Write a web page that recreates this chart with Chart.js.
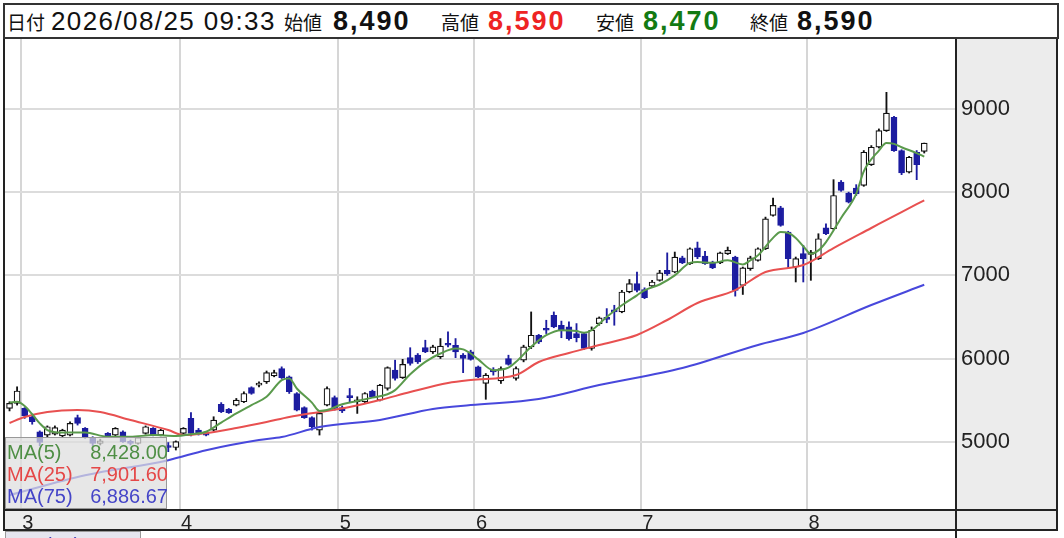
<!DOCTYPE html>
<html><head><meta charset="utf-8">
<script src="https://cdn.jsdelivr.net/npm/chart.js@4/dist/chart.umd.min.js"></script>
<style>
html,body{margin:0;padding:0;background:#fff;}
body{width:1064px;height:538px;overflow:hidden;position:relative;font-family:'Liberation Sans',Arial,sans-serif;color:#111;}
#c{position:absolute;left:0;top:0;}
#hdr{position:absolute;left:3px;top:3px;width:1052px;height:32px;border:2px solid #333;background:#fff;}
.h{position:absolute;top:0;line-height:33px;white-space:nowrap;}
.jp{font-family:'Noto Sans CJK JP',sans-serif;font-size:19px;}
.v{font-size:26px;letter-spacing:1.4px;}
.b{font-size:27px;font-weight:bold;letter-spacing:2px;}
#leg{position:absolute;left:5px;top:437px;width:160px;height:70px;background:rgba(222,222,222,0.72);border:1px solid #999;font-size:20px;}
.r{position:absolute;left:1px;width:158px;height:22px;line-height:22px;}
.r .n{position:absolute;left:0;}
.r .x{position:absolute;right:-3px;}
#rsi{position:absolute;left:5px;top:531px;width:134px;height:20px;background:rgba(222,222,235,0.8);border:1px solid #999;font-size:20px;line-height:26px;color:#3a3ab8;}
</style>
</head><body>
<canvas id="c" width="1064" height="538"></canvas>
<div id="hdr">
  <span class="h jp" style="left:2px">日付</span>
  <span class="h v" style="left:46px">2026/08/25 09:33</span>
  <span class="h jp" style="left:279px">始値</span>
  <span class="h b" style="left:328px">8,490</span>
  <span class="h jp" style="left:436px">高値</span>
  <span class="h b" style="left:483px;color:#ee2424">8,590</span>
  <span class="h jp" style="left:591px">安値</span>
  <span class="h b" style="left:638px;color:#137a13">8,470</span>
  <span class="h jp" style="left:745px">終値</span>
  <span class="h b" style="left:792px">8,590</span>
</div>
<div id="leg">
  <div class="r" style="top:3px;color:#4f8f45"><span class="n">MA(5)</span><span class="x">8,428.00</span></div>
  <div class="r" style="top:25px;color:#e54848"><span class="n">MA(25)</span><span class="x">7,901.60</span></div>
  <div class="r" style="top:47px;color:#4545c8"><span class="n">MA(75)</span><span class="x">6,886.67</span></div>
</div>
<div id="rsi">&nbsp;RSI(14)&nbsp;&nbsp;&nbsp;&nbsp;46.79</div>
<script>
// ---- data (index 0 = 2026/02/26, last = 2026/08/25) ----
const monthLabels = ['3','4','5','6','7','8'];
const monthBoundaryIdx = [1.5, 22.5, 43.5, 61.5, 83.5, 105.5];
const yTicks = [5000, 6000, 7000, 8000, 9000];

const opens = [5400,5460,5400,5300,5120,5080,5090,5070,5080,5290,5160,5040,4980,5100,5080,5120,5000,4980,5100,5160,5080,4950,4930,5100,5280,5140,5100,5140,5450,5390,5440,5480,5650,5680,5720,5790,5880,5780,5580,5410,5290,5140,5440,5530,5410,5540,5480,5480,5610,5500,5640,5860,5770,6010,6040,6130,6080,6020,6170,6160,6040,6080,5900,5700,5850,5730,6000,5760,5980,6140,6280,6350,6520,6400,6380,6300,6300,6120,6420,6490,6580,6560,6800,6900,6830,6870,6940,7060,7040,7210,7140,7330,7230,7160,7150,7260,7220,6880,7080,7180,7320,7720,7810,7520,7100,7260,7250,7200,7570,7560,8120,7990,8050,8080,8330,8540,8740,8900,8500,8240,8480,8490];
const highs = [5480,5660,5410,5310,5130,5190,5190,5150,5240,5320,5170,5060,5030,5110,5170,5130,5020,5060,5190,5170,5150,4990,5010,5170,5350,5160,5110,5300,5470,5400,5520,5600,5660,5720,5850,5860,5900,5790,5590,5420,5300,5360,5660,5550,5430,5640,5540,5590,5620,5690,5900,5980,5990,6130,6060,6220,6160,6240,6320,6240,6060,6100,5910,5820,5890,5900,6040,5900,6160,6560,6290,6460,6560,6450,6440,6420,6310,6380,6500,6600,6640,6820,6950,7040,6850,6940,7060,7270,7280,7230,7330,7400,7290,7170,7280,7340,7230,7100,7230,7330,7700,7930,7830,7530,7220,7360,7300,7500,7620,8150,8140,8000,8090,8500,8560,8760,9200,8910,8510,8430,8500,8590];
const lows = [5370,5440,5280,5210,4950,5060,5080,5050,5070,5200,5040,4950,4960,5060,5070,4990,4960,4970,5090,5070,5070,4880,4900,5080,5070,5080,5070,5130,5350,5340,5430,5470,5570,5660,5700,5780,5760,5580,5370,5280,5140,5080,5430,5380,5350,5470,5340,5470,5530,5490,5620,5740,5760,5920,5940,6070,6060,6000,6140,6010,5830,5980,5770,5510,5800,5700,5920,5740,5960,6120,6180,6300,6370,6250,6220,6200,6110,6100,6400,6430,6400,6550,6790,6800,6720,6860,6930,7000,7030,7140,7130,7200,7130,7080,7140,7250,6750,6770,7060,7170,7310,7710,7590,7080,6920,6920,6940,7190,7490,7550,8010,7870,7960,8070,8320,8530,8730,8490,8210,8230,8150,8470];
const closes = [5460,5610,5310,5240,4990,5180,5170,5140,5220,5220,5050,4980,5010,5070,5160,5000,4980,5050,5180,5080,5140,4930,5000,5160,5100,5090,5080,5260,5360,5350,5500,5580,5580,5700,5830,5830,5770,5600,5380,5290,5180,5340,5640,5400,5370,5530,5500,5580,5540,5680,5890,5760,5930,5940,5960,6080,6140,6150,6160,6080,6000,5990,5780,5800,5840,5880,5930,5880,6140,6280,6200,6340,6380,6340,6240,6250,6120,6340,6490,6470,6560,6800,6900,6820,6730,6920,7030,7020,7220,7150,7320,7220,7140,7090,7270,7300,6820,7090,7210,7320,7680,7840,7600,7200,7200,7200,7280,7440,7500,7960,8020,7880,7980,8480,8540,8740,8950,8500,8230,8420,8330,8590];

const ma5Idx = [0,1,2,3,4,5,7,10,13,16,19,22,24,26,28,30,32,34,36,37,38,40,41,42,44,46,48,50,51,53,55,57,59,60,61,62,64,66,67,69,71,73,75,76,77,79,81,83,84,86,88,90,91,93,95,97,98,99,101,102,103,104,105,106,107,108,110,112,113,115,116,117,118,120,121];
const ma5Val = [5470,5480,5430,5330,5220,5140,5110,5110,5060,5060,5080,5070,5090,5120,5230,5340,5440,5540,5740,5760,5640,5470,5370,5380,5450,5490,5530,5570,5620,5810,5960,6060,6120,6110,6060,5990,5860,5890,5960,6140,6280,6340,6330,6310,6340,6500,6640,6760,6820,6890,7000,7150,7160,7150,7180,7130,7180,7240,7450,7520,7510,7450,7350,7260,7300,7400,7690,7980,8250,8500,8590,8580,8540,8470,8428];
const ma25Idx = [0,2,5,9,12,16,21,23,26,30,34,37,41,45,49,53,58,61,67,70,74,78,83,87,91,96,100,105,109,114,118,121];
const ma25Val = [5225,5297,5357,5381,5357,5261,5140,5080,5104,5165,5237,5297,5357,5417,5501,5597,5706,5742,5802,5958,6066,6163,6283,6463,6667,6823,7040,7124,7328,7569,7761,7902];
const ma75Idx = [0,10,21,26,33,36,41,49,56,61,70,78,89,99,105,114,121];
const ma75Val = [4357,4597,4778,4898,5020,5056,5177,5261,5393,5441,5513,5681,5886,6163,6307,6643,6887];

// ---- build ----
const UP = '#ffffff', DOWN = '#1c1ca0';
const wicks = [], bodies = [], bodyBg = [], bodyBd = [], wickBg = [];
for (let i = 0; i < opens.length; i++) {
  const up = closes[i] >= opens[i];
  wicks.push({x: i, y: [lows[i], highs[i]]});
  bodies.push({x: i, y: [opens[i], closes[i]]});
  bodyBg.push(up ? UP : DOWN);
  bodyBd.push(up ? '#111111' : DOWN);
  wickBg.push(up ? '#111111' : DOWN);
}
const pts = (ix, v) => ix.map((x, k) => ({x, y: v[k]}));

const frame = {
  id: 'frame',
  beforeDraw(chart) {
    const {ctx, chartArea: a} = chart;
    ctx.save();
    ctx.fillStyle = '#ffffff';
    ctx.fillRect(0, 0, chart.width, chart.height);
    ctx.fillStyle = '#ececec';
    ctx.fillRect(a.right, 36, 1057 - a.right, 494);
    ctx.fillRect(3, a.bottom, 1054, 20);
    ctx.restore();
  },
  afterDraw(chart) {
    const {ctx, chartArea: a} = chart;
    ctx.save();
    ctx.strokeStyle = '#222';
    ctx.lineWidth = 2;
    ctx.beginPath();
    ctx.moveTo(3, 37); ctx.lineTo(1058, 37);
    ctx.moveTo(4, 36); ctx.lineTo(4, 531);
    ctx.moveTo(3, a.bottom); ctx.lineTo(1058, a.bottom);
    ctx.moveTo(3, 530); ctx.lineTo(1058, 530);
    ctx.moveTo(a.right, 36); ctx.lineTo(a.right, 538);
    ctx.moveTo(1057, 36); ctx.lineTo(1057, 531);
    ctx.stroke();
    ctx.restore();
  }
};

const family = "'Liberation Sans', Arial, sans-serif";
new Chart(document.getElementById('c'), {
  type: 'bar',
  data: {
    datasets: [
      {type: 'line', data: pts(ma5Idx, ma5Val), borderColor: '#5a9a4c', borderWidth: 2, pointRadius: 0, cubicInterpolationMode: 'monotone', order: 0},
      {type: 'line', data: pts(ma25Idx, ma25Val), borderColor: '#e85050', borderWidth: 2, pointRadius: 0, cubicInterpolationMode: 'monotone', order: 0},
      {type: 'line', data: pts(ma75Idx, ma75Val), borderColor: '#4848dc', borderWidth: 2, pointRadius: 0, cubicInterpolationMode: 'monotone', order: 0},
      {data: bodies, backgroundColor: bodyBg, borderColor: bodyBd, borderWidth: 1.2, borderSkipped: false, barThickness: 6, minBarLength: 2, grouped: false, order: 1},
      {data: wicks, backgroundColor: wickBg, borderWidth: 0, barThickness: 1.2, grouped: false, order: 2}
    ]
  },
  options: {
    responsive: false, animation: false, devicePixelRatio: 1,
    layout: {padding: {left: 5, top: 38, right: 7, bottom: 8}},
    plugins: {legend: {display: false}, tooltip: {enabled: false}},
    scales: {
      x: {
        type: 'linear', min: -0.6, max: 125.2, position: 'bottom', offset: false,
        afterBuildTicks: s => { s.ticks = monthBoundaryIdx.map(v => ({value: v})); },
        afterFit: s => { s.height = 20; },
        grid: {color: '#d6d6d6', lineWidth: 2, drawTicks: false, offset: false},
        border: {display: false},
        ticks: {padding: 1, labelOffset: 7, autoSkip: false, maxRotation: 0, color: '#222',
          font: {size: 20, family},
          callback: (v) => monthLabels[monthBoundaryIdx.indexOf(v)]}
      },
      y: {
        position: 'right', min: 4179, max: 9853,
        afterBuildTicks: s => { s.ticks = yTicks.map(v => ({value: v})); },
        afterFit: s => { s.width = 101; },
        grid: {color: '#dcdcdc', lineWidth: 2, drawTicks: false},
        border: {display: false},
        ticks: {padding: 5, color: '#222', font: {size: 22, family}, callback: v => String(v)}
      }
    }
  },
  plugins: [frame]
});
</script>
</body></html>
